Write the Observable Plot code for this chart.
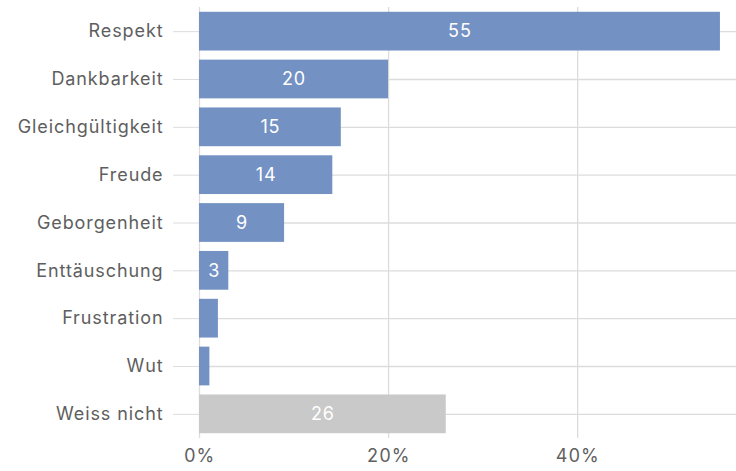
<!DOCTYPE html>
<html><head><meta charset="utf-8">
<script src="https://cdn.jsdelivr.net/npm/d3@7"></script>
<script src="https://cdn.jsdelivr.net/npm/@observablehq/plot@0.6"></script>
<style>body{margin:0;background:#fff}svg{font-family:Inter,sans-serif}svg text{letter-spacing:0.9px}</style>
</head><body><div id="chart"></div>
<script>
const categories = ["Respekt","Dankbarkeit","Gleichgültigkeit","Freude","Geborgenheit","Enttäuschung","Frustration","Wut","Weiss nicht"];
const values = [55.1, 20, 15, 14.1, 9, 3.1, 2, 1.1, 26.1];
const labels = ["55","20","15","14","9","3","","","26"];
const groups = ["a","a","a","a","a","a","a","a","b"];
const xTicks = [0, 20, 40];
const data = categories.map((c,i)=>({c, v: values[i], l: labels[i], g: groups[i]}));
const xMax = 56.8;
const plot = Plot.plot({
  width: 736, height: 471,
  marginLeft: 199, marginRight: 0, marginTop: 7, marginBottom: 33,
  style: {fontSize: "18px", fontFamily: "Inter, sans-serif", color: "#606060"},
  x: {domain: [0, xMax], label: null},
  y: {domain: categories, paddingInner: 0.19, paddingOuter: 0.1, round: false, label: null},
  color: {domain: ["a","b"], range: ["#7491c4","#c9c9c9"]},
  marks: [
    Plot.ruleX(xTicks, {stroke: "#dcdcdc", strokeWidth: 1.3}),
    Plot.ruleY(categories, {y: d => d, x1: 0, x2: xMax, stroke: "#dcdcdc", strokeWidth: 1.3}),
    Plot.axisY({tickSize: 26, tickPadding: 10, stroke: "#dcdcdc", fill: "#5e5e5e", fontSize: 18}),
    Plot.axisX({ticks: xTicks, tickSize: 0, tickPadding: 11, tickFormat: d => d + "%", fill: "#606060", fontSize: 18}),
    Plot.barX(data, {x: "v", y: "c", fill: "g"}),
    Plot.text(data, {x: d => d.v / 2, y: "c", text: "l", fill: "white", fontSize: 18})
  ]
});
document.getElementById("chart").append(plot);
</script></body></html>
